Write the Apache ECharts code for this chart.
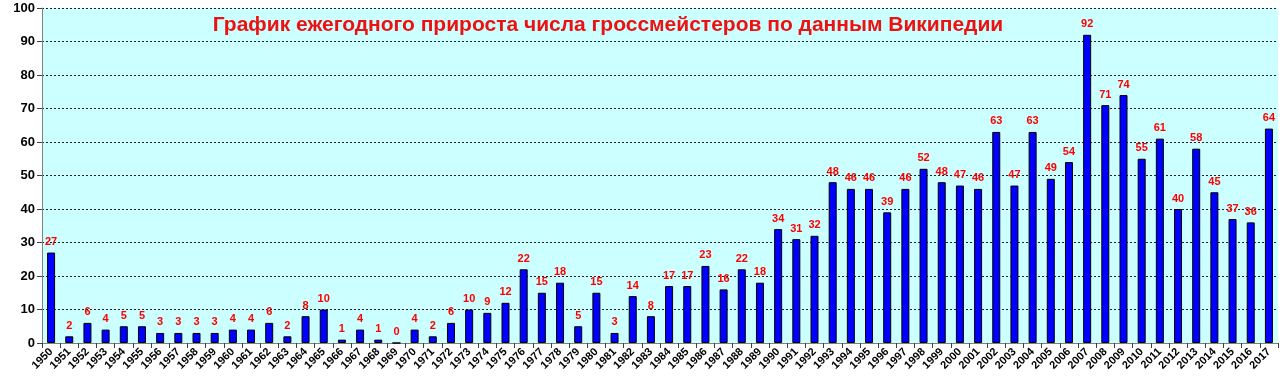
<!DOCTYPE html>
<html>
<head>
<meta charset="utf-8">
<script src="https://cdn.jsdelivr.net/npm/echarts@6/dist/echarts.min.js"></script>
<style>
html,body{margin:0;padding:0;background:#fff;}
#chart{width:1283px;height:384px;}
</style>
</head>
<body>
<div id="chart"></div>
<script>
const titleText = "График ежегодного прироста числа гроссмейстеров по данным Википедии";
const years = ["1950","1951","1952","1953","1954","1955","1956","1957","1958","1959",
  "1960","1961","1962","1963","1964","1965","1966","1967","1968","1969",
  "1970","1971","1972","1973","1974","1975","1976","1977","1978","1979",
  "1980","1981","1982","1983","1984","1985","1986","1987","1988","1989",
  "1990","1991","1992","1993","1994","1995","1996","1997","1998","1999",
  "2000","2001","2002","2003","2004","2005","2006","2007","2008","2009",
  "2010","2011","2012","2013","2014","2015","2016","2017"];
const growth = [27,2,6,4,5,5,3,3,3,3,
  4,4,6,2,8,10,1,4,1,0,
  4,2,6,10,9,12,22,15,18,5,
  15,3,14,8,17,17,23,16,22,18,
  34,31,32,48,46,46,39,46,52,48,
  47,46,63,47,63,49,54,92,71,74,
  55,61,40,58,45,37,36,64];
const yMin = 0, yMax = 100, yStep = 10;

const chart = echarts.init(document.getElementById('chart'), null, {renderer:'canvas'});
chart.setOption({
  animation: false,
  backgroundColor: '#ffffff',
  title: {
    text: titleText,
    left: 603,
    top: 10,
    textAlign: 'center',
    textStyle: {color:'#EE1111', fontFamily:'Arial, "Liberation Sans", sans-serif', fontWeight:'bold', fontSize:21}
  },
  grid: {
    left: 42, right: 5, top: 8, bottom: 41,
    show: true, backgroundColor: '#CCFFFF', borderWidth: 0
  },
  xAxis: {
    type: 'category',
    data: years,
    boundaryGap: true,
    axisLine: {show:true, lineStyle:{color:'#808080', width:1}},
    axisTick: {show:true, alignWithLabel:false, interval:0, length:5, lineStyle:{color:'#404040'}},
    axisLabel: {
      interval: 0, rotate: 45, margin: 7,
      color:'#000', fontFamily:'Arial, "Liberation Sans", sans-serif', fontWeight:'bold', fontSize:11
    },
    splitLine: {show:false}
  },
  yAxis: {
    type: 'value',
    min: yMin, max: yMax, interval: yStep,
    axisLine: {show:true, lineStyle:{color:'#808080', width:1}},
    axisTick: {show:true, length:5, lineStyle:{color:'#404040'}},
    axisLabel: {margin:7, color:'#000', fontFamily:'Arial, "Liberation Sans", sans-serif', fontWeight:'bold', fontSize:13},
    splitLine: {show:true, lineStyle:{color:'#222', width:1, type:[2,2]}}
  },
  series: [{
    type: 'bar',
    data: growth,
    barWidth: 8,
    itemStyle: {color:'#0000FF', borderColor:'#000000', borderWidth:1},
    label: {
      show: true, position: 'top', distance: 5,
      color:'#FF0000', fontFamily:'Arial, "Liberation Sans", sans-serif', fontWeight:'bold', fontSize:11
    }
  }]
});
</script>
</body>
</html>
